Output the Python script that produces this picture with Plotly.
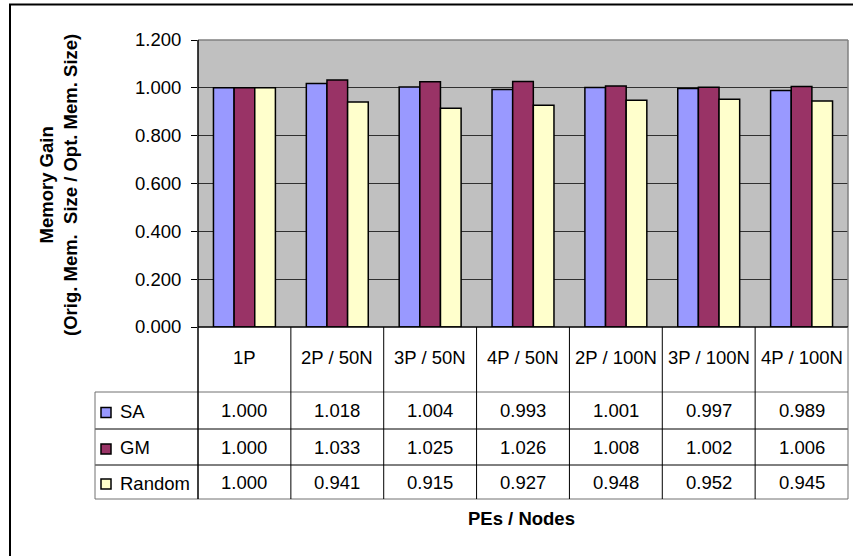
import plotly.graph_objects as go

categories = ['1P', '2P / 50N', '3P / 50N', '4P / 50N', '2P / 100N', '3P / 100N', '4P / 100N']
series_names = ['SA', 'GM', 'Random']
sa_values = [1.000, 1.018, 1.004, 0.993, 1.001, 0.997, 0.989]
gm_values = [1.000, 1.033, 1.025, 1.026, 1.008, 1.002, 1.006]
random_values = [1.000, 0.941, 0.915, 0.927, 0.948, 0.952, 0.945]
y_ticks = [0.0, 0.2, 0.4, 0.6, 0.8, 1.0, 1.2]

colors = ['#9999FF', '#993366', '#FFFFCC']
all_values = [sa_values, gm_values, random_values]

W, H = 853, 556
L, R, T, B = 198, 848, 40, 327  # plot area in pixels
FONT = 'Liberation Sans, Arial, sans-serif'
FS = 18.5


def px(xp):
    return (xp - L) / (R - L)


def py(yp):
    return (B - yp) / (B - T)


fig = go.Figure()
for name, vals, col in zip(series_names, all_values, colors):
    fig.add_trace(go.Bar(x=categories, y=vals, name=name,
                         marker=dict(color=col, line=dict(color='black', width=1.5))))

shapes = []
annotations = []

# outer chart border
shapes.append(dict(type='rect', xref='paper', yref='paper', x0=px(10), x1=px(870),
                   y0=py(4.5), y1=py(580), line=dict(color='black', width=2)))
# plot area top/right border (gray)
shapes.append(dict(type='line', xref='paper', yref='paper', x0=0, x1=1, y0=1, y1=1,
                   line=dict(color='#808080', width=1.5)))
shapes.append(dict(type='line', xref='paper', yref='paper', x0=1, x1=1, y0=0, y1=1,
                   line=dict(color='#808080', width=1.5)))

# table geometry
row_y = [392, 429, 465, 499]
header_center = 357
row_centers = [410.5, 447, 482]

# horizontal lines of table
for i, yy in enumerate(row_y):
    col = '#707070' if i in (0, 3) else 'black'
    shapes.append(dict(type='line', xref='paper', yref='paper', x0=px(95), x1=1,
                       y0=py(yy), y1=py(yy), line=dict(color=col, width=1)))
# bottom of plot / top of table
shapes.append(dict(type='line', xref='paper', yref='paper', x0=0, x1=1, y0=0, y1=0,
                   line=dict(color='black', width=1.5)))
# vertical lines: category boundaries through axis scale
for i in range(len(categories) - 1):
    shapes.append(dict(type='line', xref='x', yref='paper', x0=i + 0.5, x1=i + 0.5,
                       y0=0, y1=py(row_y[-1]), line=dict(color='black', width=1)))
shapes.append(dict(type='line', xref='paper', yref='paper', x0=0, x1=0,
                   y0=py(T), y1=py(row_y[-1]), line=dict(color='black', width=1.5)))
shapes.append(dict(type='line', xref='paper', yref='paper', x0=1, x1=1,
                   y0=0, y1=py(row_y[-1]), line=dict(color='#707070', width=1)))
shapes.append(dict(type='line', xref='paper', yref='paper', x0=px(95), x1=px(95),
                   y0=py(row_y[0]), y1=py(row_y[-1]), line=dict(color='#707070', width=1)))

txtfont = dict(size=FS, color='black', family=FONT)

# header labels
for c in categories:
    annotations.append(dict(x=c, xref='x', y=py(header_center), yref='paper', text=c,
                            xanchor='center', yanchor='middle',
                            showarrow=False, font=txtfont))
# values
for r, (name, vals, col) in enumerate(zip(series_names, all_values, colors)):
    yc = row_centers[r]
    for c, v in zip(categories, vals):
        annotations.append(dict(x=c, xref='x', y=py(yc), yref='paper', text=f'{v:.3f}',
                                xanchor='center', yanchor='middle',
                                showarrow=False, font=txtfont))
    shapes.append(dict(type='rect', xref='paper', yref='paper', x0=px(101), x1=px(111),
                       y0=py(yc + 2 - 5), y1=py(yc + 2 + 5), fillcolor=col,
                       line=dict(color='black', width=1.5)))
    annotations.append(dict(x=px(118), xref='paper', y=py(yc + 1), yref='paper', text=name,
                            xanchor='left', yanchor='middle', showarrow=False, font=txtfont))

# axis titles
annotations.append(dict(x=px(58), xref='paper', y=py(185), yref='paper', textangle=-90,
                        text='<b>Memory Gain<br>(Orig. Mem.  Size / Opt. Mem. Size)</b>',
                        xanchor='center', yanchor='middle',
                        showarrow=False, font=txtfont))
annotations.append(dict(x=px(521), xref='paper', y=py(518), yref='paper',
                        text='<b>PEs / Nodes</b>', xanchor='center', yanchor='middle',
                        showarrow=False, font=txtfont))

fig.update_layout(
    width=W, height=H,
    margin=dict(l=L, r=W - R, t=T, b=H - B, pad=0),
    paper_bgcolor='white', plot_bgcolor='#C0C0C0',
    barmode='group', bargap=0.333, bargroupgap=0,
    showlegend=False,
    font=dict(family=FONT, size=FS, color='black'),
    shapes=shapes, annotations=annotations,
    xaxis=dict(type='category', range=[-0.5, len(categories) - 0.5], showticklabels=False,
               showgrid=False, zeroline=False, ticks='', showline=False, automargin=False),
    yaxis=dict(range=[0, 1.2], tickvals=y_ticks, tickformat='.3f', showgrid=True,
               gridcolor='#303030', gridwidth=1, zeroline=False, ticks='outside', ticklen=6,
               tickcolor='black', showline=False, ticklabelstandoff=6, automargin=False,
               tickfont=dict(size=FS, family=FONT, color='black')),
)

fig.write_html('out.html', config={'displayModeBar': False},
               post_script="document.body.style.margin='0px';document.body.style.overflow='hidden';")
